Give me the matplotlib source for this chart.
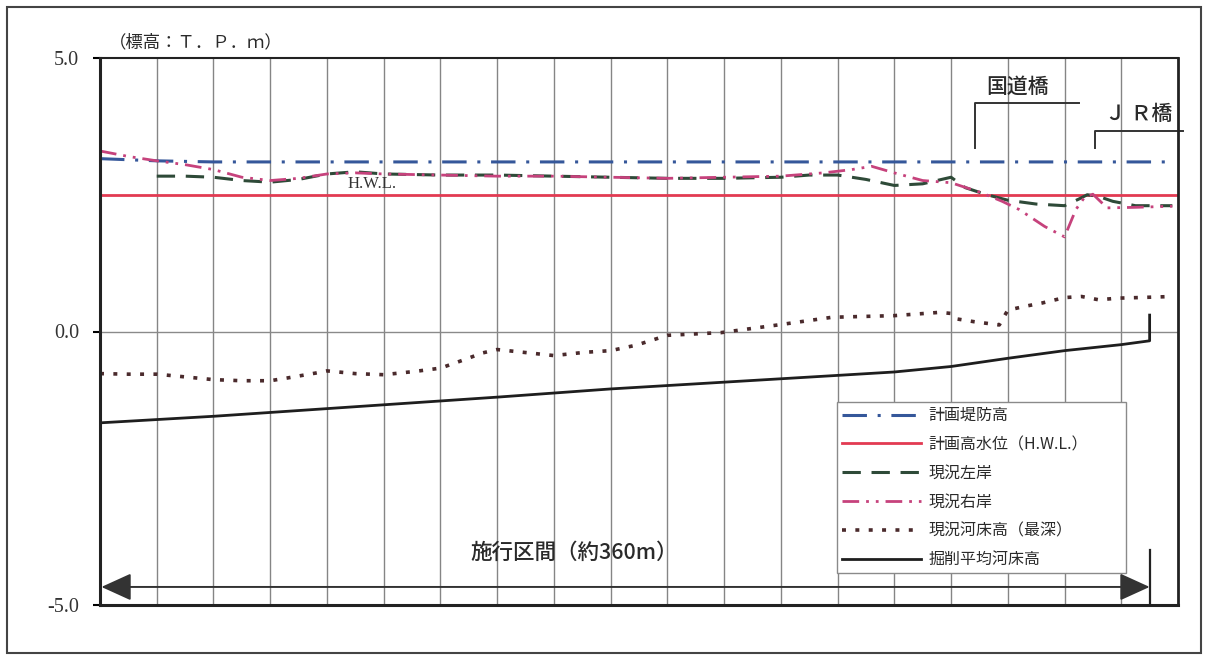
import matplotlib
matplotlib.use('Agg')
import matplotlib.pyplot as plt
from matplotlib.lines import Line2D
from matplotlib.patches import Rectangle, FancyArrowPatch

plt.rcParams['font.family'] = ['Noto Sans CJK JP', 'DejaVu Sans']

# distance along reach (m) / elevation (T.P. m)
levee_x = [0, 20, 40, 376]
levee_y = [3.16, 3.12, 3.10, 3.10]

hwl_x = [0, 380]
hwl_y = [2.49, 2.49]

left_x = [20, 30, 40, 50, 60, 70, 80, 90, 100, 120, 140, 160, 180, 200, 220, 240,
          250, 260, 270, 280, 290, 300, 305, 312, 320, 330, 340, 345, 348, 352, 357, 365, 378]
left_y = [2.84, 2.84, 2.82, 2.76, 2.73, 2.78, 2.88, 2.92, 2.88, 2.86, 2.86, 2.84, 2.82, 2.80, 2.80, 2.82,
          2.86, 2.86, 2.78, 2.67, 2.70, 2.82, 2.63, 2.51, 2.40, 2.33, 2.30, 2.42, 2.50, 2.47, 2.38, 2.30, 2.30]

right_x = [0, 10, 20, 30, 40, 50, 60, 70, 80, 90, 100, 120, 140, 160, 180, 200, 220, 240,
           255, 265, 272, 280, 290, 300, 310, 318, 324, 333, 340, 344, 347, 350, 355, 365, 378]
right_y = [3.30, 3.20, 3.12, 3.05, 2.96, 2.82, 2.76, 2.80, 2.88, 2.90, 2.88, 2.86, 2.84, 2.84, 2.82, 2.80, 2.82, 2.84,
           2.90, 2.96, 3.02, 2.90, 2.76, 2.72, 2.55, 2.38, 2.23, 1.92, 1.73, 2.23, 2.45, 2.51, 2.26, 2.27, 2.29]

bed_x = [0, 10, 20, 30, 40, 50, 60, 66, 76, 80, 90, 100, 111, 120, 126, 135, 140, 151, 160, 171,
         180, 189, 200, 219, 239, 258, 280, 296, 300, 302, 308, 317, 320, 326, 332, 340, 346, 352, 359, 366, 378]
bed_y = [-0.77, -0.78, -0.78, -0.83, -0.88, -0.90, -0.90, -0.85, -0.76, -0.72, -0.77, -0.79, -0.73, -0.67, -0.56,
         -0.39, -0.33, -0.39, -0.44, -0.38, -0.35, -0.25, -0.07, -0.02, 0.12, 0.26, 0.29, 0.35, 0.33, 0.23,
         0.18, 0.12, 0.39, 0.46, 0.52, 0.62, 0.64, 0.58, 0.61, 0.62, 0.64]

excav_x = [0, 40, 60, 100, 140, 180, 264, 280, 300, 320, 340, 360, 370, 370]
excav_y = [-1.67, -1.55, -1.48, -1.34, -1.20, -1.05, -0.79, -0.74, -0.64, -0.49, -0.35, -0.24, -0.17, 0.30]

labels = ['計画堤防高', '計画高水位（H.W.L.）', '現況左岸', '現況右岸', '現況河床高（最深）', '掘削平均河床高']
section_start, section_end = 0.5, 370
section_text = '施行区間（約360m）'

c_blue = '#35579a'
c_red = '#e23a52'
c_green = '#2e4a38'
c_pink = '#c6427c'
c_bed = '#4a2a2c'
c_black = '#1e1e1e'
c_text = '#2a2a2a'

fig = plt.figure(figsize=(12.11, 6.59), dpi=100)
ax = fig.add_axes([100/1211, 54/659, 1078/1211, 547/659])
ax.set_xlim(0, 380)
ax.set_ylim(-5, 5)

for gx in range(20, 380, 20):
    ax.axvline(gx, color='#858585', lw=1.0, zorder=0)
ax.axhline(0, color='#8a8a8a', lw=1.0, zorder=0)

ax.plot(levee_x, levee_y, color=c_blue, lw=2.2, dashes=(8, 3.5, 1, 3.5))
ax.plot(hwl_x, hwl_y, color=c_red, lw=2.0)
ax.plot(left_x, left_y, color=c_green, lw=2.2, dashes=(6, 3.5))
ax.plot(right_x, right_y, color=c_pink, lw=2.0, dashes=(6, 2.5, 1, 2.5, 1, 2.5))
ax.plot(bed_x, bed_y, color=c_bed, lw=2.6, dashes=(1.1, 2.6))
ax.plot(excav_x, excav_y, color=c_black, lw=2.0)

ax.text(96, 2.69, 'H.W.L.', fontsize=12, family='Liberation Serif', color='#333333',
        ha='center', va='center')

# bridges
ax.plot([308.6, 308.6, 345], [3.36, 4.18, 4.18], color='#333333', lw=1.4, clip_on=False)
ax.text(323.5, 4.47, '国道橋', fontsize=15, color=c_text, ha='center', va='center', weight='medium')
ax.plot([350.6, 350.6, 381.6], [3.36, 3.67, 3.67], color='#333333', lw=1.4, clip_on=False)
ax.text(366, 3.98, 'Ｊ Ｒ橋', fontsize=15, color=c_text, ha='center', va='center', weight='medium')

# construction section
arr = FancyArrowPatch((section_start, -4.67), (section_end, -4.67),
                      arrowstyle='<|-|>,head_length=1.1,head_width=0.5',
                      mutation_scale=17, color='#333333', lw=1.4,
                      shrinkA=0, shrinkB=0, zorder=5)
ax.add_patch(arr)
ax.plot([section_end, section_end], [-4.0, -4.97], color='#222222', lw=1.6, zorder=5)
ax.text(167, -4.05, section_text, fontsize=15.5, color=c_text, ha='center', va='center', weight='medium')

ax.text(3.2, 5.29, '（標高：Ｔ．Ｐ．ｍ）', fontsize=12.5, color=c_text, ha='left', va='center',
        clip_on=False)

ax.set_xticks([])
ax.set_yticks([5, 0, -5])
ax.set_yticklabels(['5.0', '0.0', '-5.0'], family='Liberation Serif', fontsize=14.5, color='#333333')
ax.tick_params(axis='y', direction='out', length=5, width=1.5, pad=10)

ax.spines['left'].set_linewidth(2.2)
ax.spines['bottom'].set_linewidth(2.2)
ax.spines['top'].set_linewidth(1.5)
ax.spines['right'].set_linewidth(2.0)
for s in ax.spines.values():
    s.set_color('#222222')

handles = [
    Line2D([], [], color=c_blue, lw=2.2, dashes=(8, 3.5, 1, 3.5)),
    Line2D([], [], color=c_red, lw=2.0),
    Line2D([], [], color=c_green, lw=2.2, dashes=(6, 3.5)),
    Line2D([], [], color=c_pink, lw=2.0, dashes=(6, 2.5, 1, 2.5, 1, 2.5)),
    Line2D([], [], color=c_bed, lw=2.6, dashes=(1.1, 2.6)),
    Line2D([], [], color=c_black, lw=2.0),
]
leg = ax.legend(handles, labels, loc='upper left', bbox_to_anchor=(0.684, 0.057, 0.268, 0.314),
                mode='expand', fontsize=11.5, handlelength=4.9, handletextpad=0.5,
                labelspacing=0.74, borderpad=0.32, borderaxespad=0, frameon=True,
                fancybox=False, edgecolor='#8a8a8a', framealpha=1)
leg.get_frame().set_linewidth(1.0)
for t in leg.get_texts():
    t.set_color(c_text)

fig.patches.append(Rectangle((7/1211, 6/659), 1194/1211, 646/659, transform=fig.transFigure,
                             fill=False, edgecolor='#444444', lw=1.5))

fig.savefig('out.png', dpi=100)
